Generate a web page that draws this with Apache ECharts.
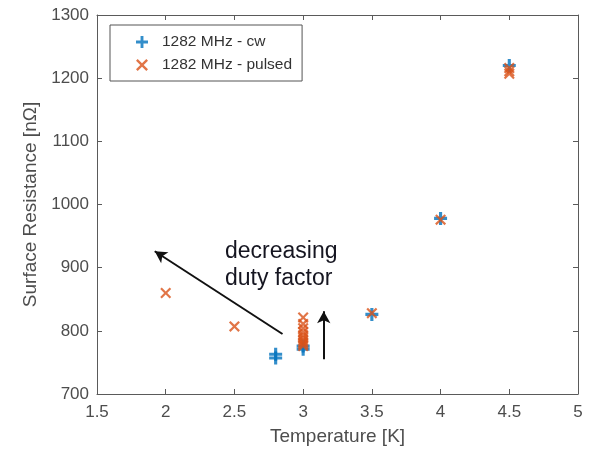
<!DOCTYPE html>
<html>
<head>
<meta charset="utf-8">
<script src="https://cdn.jsdelivr.net/npm/echarts@6/dist/echarts.min.js"></script>
<style>
  html, body { margin: 0; padding: 0; background: #fff; }
  #chart { width: 592px; height: 451px; }
</style>
</head>
<body>
<div id="chart"></div>
<script>
// temperatures [K] and surface resistance [nOhm]
var cwTemp = [2.8, 2.8, 3.0, 3.0, 3.5, 4.0, 4.5];
var cwRs = [763, 757, 771, 776, 826, 978, 1220];
var pulsedTemp = [2.0, 2.5, 3.0, 3.0, 3.0, 3.0, 3.0, 3.0, 3.0, 3.0, 3.0, 3.0, 3.5, 4.0, 4.5, 4.5, 4.5];
var pulsedRs = [860, 807, 821, 811, 804, 798, 793, 789, 785, 782, 779, 776, 828, 976, 1216, 1211, 1207];
var xTicks = [1.5, 2, 2.5, 3, 3.5, 4, 4.5, 5];
var yTicks = [700, 800, 900, 1000, 1100, 1200, 1300];

// annotation arrows in data coords
var diagArrow = [[2.85, 795], [1.92, 926]];
var upArrow = [[3.15, 755], [3.15, 831]];

var BLUE = '#0072BD';
var ORANGE = '#D95319';
var FONT = 'Liberation Sans, Arial, sans-serif';
var PLUS = 'path://M3.8,0h2.4v3.8h3.8v2.4h-3.8v3.8h-2.4v-3.8h-3.8v-2.4h3.8z';
var CROSS = 'path://M0,1.4L1.4,0L5,3.6L8.6,0L10,1.4L6.4,5L10,8.6L8.6,10L5,6.4L1.4,10L0,8.6L3.6,5z';

function pairs(xs, ys) {
  var out = [];
  for (var i = 0; i < xs.length; i++) out.push([xs[i], ys[i]]);
  return out;
}

var chart = echarts.init(document.getElementById('chart'));

var axisLine = { show: true, lineStyle: { color: '#5a5a5a', width: 1 } };
var inTicks = { show: true, inside: true, length: 5, lineStyle: { color: '#5a5a5a' } };
var labelFont = { color: '#4d4d4d', fontSize: 17, fontFamily: FONT, formatter: function (v) { return String(v); } };

var option = {
  animation: false,
  grid: { left: 97, right: 14, top: 15, bottom: 56, containLabel: false },
  xAxis: [{
    type: 'value', min: 1.5, max: 5, interval: 0.5,
    name: 'Temperature [K]', nameLocation: 'middle', nameGap: 33,
    nameTextStyle: { color: '#4d4d4d', fontSize: 19, fontFamily: FONT },
    axisLine: axisLine, axisTick: inTicks,
    axisLabel: Object.assign({ margin: 10 }, labelFont),
    splitLine: { show: false }
  }, {
    type: 'value', min: 1.5, max: 5, interval: 0.5, position: 'top',
    axisLine: axisLine, axisTick: inTicks, axisLabel: { show: false }, splitLine: { show: false }
  }],
  yAxis: [{
    type: 'value', min: 700, max: 1300, interval: 100,
    name: 'Surface Resistance [n\u03A9]', nameLocation: 'middle', nameGap: 54,
    nameTextStyle: { color: '#4d4d4d', fontSize: 19, fontFamily: FONT },
    axisLine: axisLine, axisTick: inTicks,
    axisLabel: Object.assign({ margin: 8 }, labelFont),
    splitLine: { show: false }
  }, {
    type: 'value', min: 700, max: 1300, interval: 100, position: 'right',
    axisLine: axisLine, axisTick: inTicks, axisLabel: { show: false }, splitLine: { show: false }
  }],
  legend: {
    orient: 'vertical', left: 110, top: 25,
    borderColor: '#555', borderWidth: 1, borderRadius: 0,
    padding: [9, 10, 8, 26], itemGap: 7, itemWidth: 12, itemHeight: 12,
    textStyle: { color: '#333', fontSize: 15.5, fontFamily: FONT, padding: [0, 0, 0, 9] },
    data: [
      { name: '1282 MHz - cw', icon: PLUS },
      { name: '1282 MHz - pulsed', icon: CROSS }
    ]
  },
  graphic: [{
    type: 'text', left: 225, top: 238,
    style: {
      text: 'decreasing\nduty factor', fill: '#151520', fontSize: 23, lineHeight: 27,
      fontFamily: FONT
    }
  }],
  series: [{
    name: '1282 MHz - cw', type: 'scatter',
    symbol: PLUS, symbolSize: 13,
    itemStyle: { color: BLUE },
    data: pairs(cwTemp, cwRs), z: 3
  }, {
    name: '1282 MHz - pulsed', type: 'scatter',
    symbol: CROSS, symbolSize: 11,
    itemStyle: { color: ORANGE },
    data: pairs(pulsedTemp, pulsedRs), z: 4,
    markLine: {
      silent: true, symbol: ['none', 'arrow'], symbolSize: [10, 12],
      lineStyle: { color: '#111', width: 2, type: 'solid' },
      label: { show: false },
      data: [
        [{ coord: diagArrow[0] }, { coord: diagArrow[1] }],
        [{ coord: upArrow[0] }, { coord: upArrow[1] }]
      ]
    }
  }]
};

chart.setOption(option);
</script>
</body>
</html>
